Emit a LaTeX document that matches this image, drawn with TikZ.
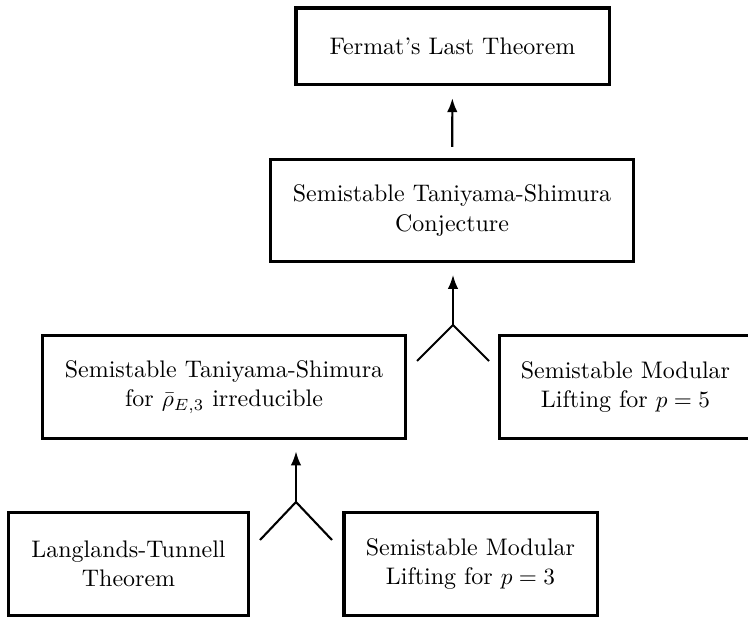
\documentclass[tikz,border=0pt]{standalone}
\usetikzlibrary{arrows.meta, positioning}

\begin{document}
\begin{tikzpicture}[x=0.43pt, y=-0.43pt,
    every node/.style={font=\fontsize{10.3pt}{12.6pt}\selectfont},
    thm/.style={draw, line width=1.3pt, align=center, minimum height=44pt},
    arr/.style={-{Latex[length=6pt, width=4.5pt]}, line width=0.9pt},
    leg/.style={line width=0.9pt}]
    \useasboundingbox (0,0) rectangle (748,618);
    \node[thm, minimum width=134.6pt, minimum height=33.1pt] (flt) at (452.5,46.5) {Fermat's Last Theorem};
    \node[thm, minimum width=155.7pt] (ts) at (452,210.5) {Semistable Taniyama-Shimura\\Conjecture};
    \node[thm, minimum width=155.7pt] (tsirr) at (224,387) {Semistable Taniyama-Shimura\\for $\bar{\rho}_{E,3}$ irreducible};
    \node[thm, minimum width=108.4pt] (ml5) at (625.5,387) {Semistable Modular\\Lifting for $p=5$};
    \node[thm, minimum width=103.6pt] (lt) at (128.5,564) {Langlands-Tunnell\\Theorem};
    \node[thm, minimum width=108.8pt] (ml3) at (470.5,564) {Semistable Modular\\Lifting for $p=3$};
    % junctions
    \coordinate (j1) at (453,325);
    \coordinate (j1l) at (417,361);
    \coordinate (j1r) at (489,361);
    \coordinate (j2) at (296,502);
    \coordinate (j2l) at (260,540);
    \coordinate (j2r) at (332,540);
    \draw[arr, shorten <=4.7pt, shorten >=5pt] (ts) -- (flt);
    \draw[arr, shorten >=5pt] (j1) -- (j1 |- ts.south);
    \draw[leg] (j1l) -- (j1) -- (j1r);
    \draw[arr, shorten >=5pt] (j2) -- (j2 |- tsirr.south);
    \draw[leg] (j2l) -- (j2) -- (j2r);
\end{tikzpicture}
\end{document}
